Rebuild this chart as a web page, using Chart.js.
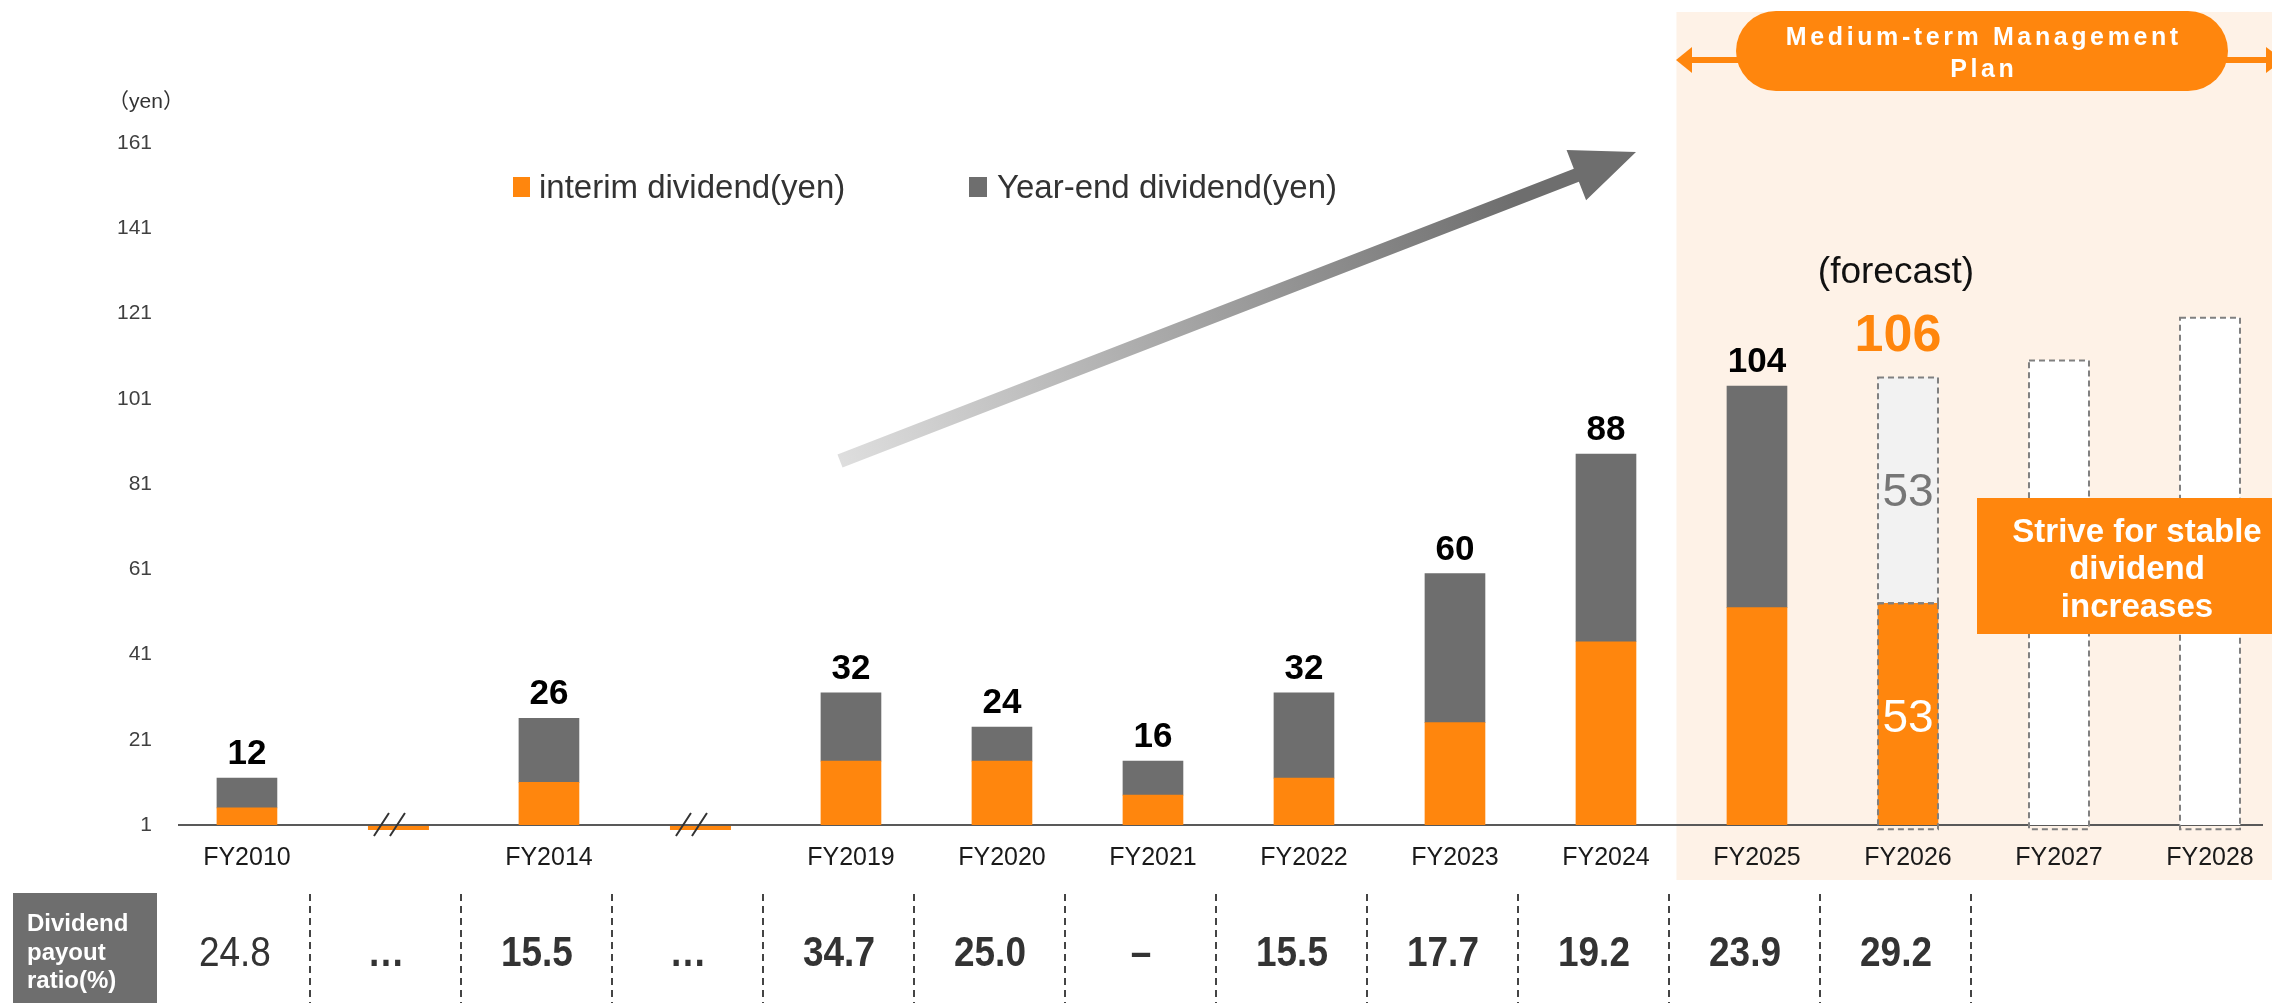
<!DOCTYPE html>
<html><head><meta charset="utf-8">
<script src="https://cdn.jsdelivr.net/npm/chart.js@4.4.1/dist/chart.umd.min.js"></script>
<style>html,body{margin:0;padding:0;background:#fff;overflow:hidden}#wrap{position:relative;width:2272px;height:1003px}</style>
</head><body><div id="wrap"><canvas id="c" width="2272" height="1003"></canvas></div>
<script>
// ---- data ----
const categories = ['FY2010','','FY2014','','FY2019','FY2020','FY2021','FY2022','FY2023','FY2024','FY2025','FY2026','FY2027','FY2028'];
const interimDividend = [5,null,11,null,16,16,8,12,25,44,52,53,null,null];
const yearEndDividend = [7,null,15,null,16,8,8,20,35,44,52,53,null,null];
const planDividend = [null,null,null,null,null,null,null,null,null,null,null,null,110,120];
const payoutRatio = ['24.8','…','15.5','…','34.7','25.0','–','15.5','17.7','19.2','23.9','29.2','',''];
const breakIndices = [1,3];
const forecastIndex = 11;
const yTicks = [1,21,41,61,81,101,121,141,161];
const legendLabels = ['interim dividend(yen)','Year-end dividend(yen)'];

const ORANGE = '#FF860D', GREY = '#6E6E6E', LIGHT = '#F2F2F2', BG = '#FEF2E7';
const FONT = '"Liberation Sans", Arial, "Noto Sans CJK JP", sans-serif';

function txt(ctx, s, x, y, size, color, opts = {}) {
  ctx.save();
  ctx.font = (opts.bold ? 'bold ' : '') + size + 'px ' + FONT;
  ctx.fillStyle = color;
  ctx.textAlign = opts.align || 'center';
  ctx.textBaseline = opts.base || 'alphabetic';
  const ls = opts.ls || 0;
  if (ls) ctx.letterSpacing = ls + 'px';
  ctx.translate(x, y);
  ctx.scale(opts.sx || 1, 1);
  ctx.fillText(s, (ctx.textAlign === 'center' && ls) ? ls / 2 : 0, 0);
  ctx.restore();
}

const decorBefore = {
  id: 'decorBefore',
  beforeDraw(chart) {
    const {ctx} = chart; const xs = chart.scales.x;
    const left = xs.getPixelForValue(9.5) - 5;
    ctx.save();
    ctx.fillStyle = BG;
    ctx.fillRect(left, 12, chart.width - left, 868);
    ctx.restore();
  }
};

const decorAfterDatasets = {
  id: 'decorAfterDatasets',
  afterDatasetsDraw(chart) {
    const {ctx} = chart; const xs = chart.scales.x; const ys = chart.scales.y;
    const m0 = chart.getDatasetMeta(0), m1 = chart.getDatasetMeta(1), m2 = chart.getDatasetMeta(2);
    ctx.save();
    ctx.strokeStyle = '#808080'; ctx.lineWidth = 2; ctx.setLineDash([6,4]);
    const outline = el => { const w = el.width; ctx.strokeRect(el.x - w/2, el.y, w, el.base - el.y); };
    outline(m0.data[forecastIndex]); outline(m1.data[forecastIndex]);
    planDividend.forEach((v,i) => { if (v != null) outline(m2.data[i]); });
    ctx.restore();
    const base = ys.getPixelForValue(yTicks[0]);
    breakIndices.forEach(i => {
      const c = xs.getPixelForValue(i);
      ctx.save();
      ctx.fillStyle = ORANGE; ctx.fillRect(c - 30, base + 1, 61, 4);
      ctx.strokeStyle = '#333'; ctx.lineWidth = 2;
      ctx.beginPath();
      ctx.moveTo(c - 24, base + 11); ctx.lineTo(c - 9, base - 12);
      ctx.moveTo(c - 8, base + 11); ctx.lineTo(c + 7, base - 12);
      ctx.stroke();
      ctx.restore();
    });
    categories.forEach((cat, i) => {
      const a = interimDividend[i], b = yearEndDividend[i];
      if (a == null || b == null) return;
      const el = m1.data[i];
      const total = String(a + b);
      if (i === forecastIndex) {
        txt(ctx, total, el.x - 10, el.y - 26, 52, ORANGE, {bold: true});
        txt(ctx, '(forecast)', el.x - 12, el.y - 94, 37, '#111');
        const e1 = m1.data[i], e0 = m0.data[i];
        txt(ctx, String(b), e1.x, (e1.y + e1.base)/2 + 16, 46, '#767676');
        txt(ctx, String(a), e0.x, (e0.y + e0.base)/2 + 16, 46, '#FFFFFF');
      } else {
        txt(ctx, total, el.x, el.y - 14, 35, '#000', {bold: true});
      }
    });
  }
};

const decorAfter = {
  id: 'decorAfter',
  afterDraw(chart) {
    const {ctx} = chart; const xs = chart.scales.x;
    txt(ctx, '（yen）', 146, 108, 21, '#333');
    ctx.save();
    ctx.fillStyle = ORANGE; ctx.fillRect(513, 177, 17, 20);
    ctx.fillStyle = GREY; ctx.fillRect(969, 177, 18, 20);
    ctx.restore();
    txt(ctx, legendLabels[0], 539, 198, 33, '#333', {align: 'left'});
    txt(ctx, legendLabels[1], 997, 198, 33, '#333', {align: 'left'});
    const S = {x: 840, y: 461}, T = {x: 1636, y: 152};
    const dx = T.x - S.x, dy = T.y - S.y, L = Math.hypot(dx, dy);
    const u = {x: dx / L, y: dy / L}, n = {x: -u.y, y: u.x};
    const hl = 64, hw = 27, sw = 7;
    const B = {x: T.x - u.x * hl, y: T.y - u.y * hl};
    const g = ctx.createLinearGradient(S.x, S.y, T.x, T.y);
    g.addColorStop(0, '#DEDEDE'); g.addColorStop(0.85, '#6E6E6E'); g.addColorStop(1, '#6E6E6E');
    ctx.save();
    ctx.fillStyle = g;
    ctx.beginPath();
    ctx.moveTo(S.x + n.x * sw, S.y + n.y * sw);
    ctx.lineTo(B.x + n.x * sw, B.y + n.y * sw);
    ctx.lineTo(B.x + n.x * hw, B.y + n.y * hw);
    ctx.lineTo(T.x, T.y);
    ctx.lineTo(B.x - n.x * hw, B.y - n.y * hw);
    ctx.lineTo(B.x - n.x * sw, B.y - n.y * sw);
    ctx.lineTo(S.x - n.x * sw, S.y - n.y * sw);
    ctx.closePath(); ctx.fill();
    ctx.restore();
    ctx.save();
    ctx.fillStyle = ORANGE;
    ctx.fillRect(1690, 57, chart.width - 1690, 6);
    ctx.beginPath(); ctx.moveTo(1676, 60); ctx.lineTo(1692, 47); ctx.lineTo(1692, 73); ctx.closePath(); ctx.fill();
    ctx.beginPath(); ctx.moveTo(2283, 60); ctx.lineTo(2266, 47); ctx.lineTo(2266, 73); ctx.closePath(); ctx.fill();
    ctx.beginPath(); ctx.roundRect(1736, 11, 492, 80, 40); ctx.fill();
    ctx.restore();
    txt(ctx, 'Medium-term Management', 1982, 45, 25, '#FFFFFF', {bold: true, ls: 3.6});
    txt(ctx, 'Plan', 1982, 77, 25, '#FFFFFF', {bold: true, ls: 3.6});
    ctx.save(); ctx.fillStyle = ORANGE; ctx.fillRect(1977, 498, chart.width - 1977, 136); ctx.restore();
    txt(ctx, 'Strive for stable', 2137, 542, 33, '#FFFFFF', {bold: true});
    txt(ctx, 'dividend', 2137, 579, 33, '#FFFFFF', {bold: true});
    txt(ctx, 'increases', 2137, 617, 33, '#FFFFFF', {bold: true});
    ctx.save(); ctx.fillStyle = GREY; ctx.fillRect(13, 893, 144, 110); ctx.restore();
    txt(ctx, 'Dividend', 27, 931, 24, '#FFFFFF', {bold: true, align: 'left'});
    txt(ctx, 'payout', 27, 960, 24, '#FFFFFF', {bold: true, align: 'left'});
    txt(ctx, 'ratio(%)', 27, 988, 24, '#FFFFFF', {bold: true, align: 'left'});
    ctx.save();
    ctx.strokeStyle = '#444'; ctx.lineWidth = 2; ctx.setLineDash([7,5]);
    payoutRatio.forEach((v, i) => {
      if (i > 11) return;
      const x = Math.round(xs.getPixelForValue(i + 0.5) - 12);
      ctx.beginPath(); ctx.moveTo(x, 894); ctx.lineTo(x, 1003); ctx.stroke();
    });
    ctx.restore();
    payoutRatio.forEach((v, i) => {
      if (!v) return;
      txt(ctx, v, xs.getPixelForValue(i) - 12, 966, 42, '#333', {bold: i !== 0, sx: 0.88});
    });
  }
};

const ctx = document.getElementById('c').getContext('2d');
new Chart(ctx, {
  type: 'bar',
  data: {
    datasets: [
      {label: legendLabels[0], data: interimDividend.map((v, i) => ({x: i, y: v})), backgroundColor: ORANGE, stack: 's'},
      {label: legendLabels[1], data: yearEndDividend.map((v, i) => ({x: i, y: v})),
        backgroundColor: c => c.dataIndex === forecastIndex ? LIGHT : GREY, stack: 's'},
      {label: 'plan', data: planDividend.map((v, i) => ({x: i, y: v})), backgroundColor: '#FFFFFF', stack: 's'}
    ]
  },
  options: {
    responsive: false, animation: false, devicePixelRatio: 1,
    layout: {padding: {top: 143, right: 9, left: 0, bottom: 0}},
    datasets: {bar: {barThickness: 60, borderWidth: 0}},
    plugins: {legend: {display: false}, tooltip: {enabled: false}},
    scales: {
      x: {
        type: 'linear', offset: false, stacked: true, min: -0.45, max: categories.length - 0.65,
        grid: {display: false, drawTicks: false, offset: false},
        border: {display: true, color: '#595959', width: 2},
        afterBuildTicks: s => { s.ticks = categories.map((c, i) => ({value: i})); },
        afterFit: s => { s.height = 178; },
        ticks: {autoSkip: false, maxRotation: 0, padding: 18, color: '#1a1a1a',
          font: {family: FONT, size: 25}, callback: v => categories[v] || ''}
      },
      y: {
        stacked: true, min: yTicks[0], max: yTicks[yTicks.length - 1],
        grid: {display: false, drawTicks: false},
        border: {display: false},
        afterBuildTicks: s => { s.ticks = yTicks.map(v => ({value: v})); },
        afterFit: s => { s.width = 179; },
        ticks: {padding: 27, color: '#404040', font: {family: FONT, size: 21}}
      }
    }
  },
  plugins: [decorBefore, decorAfterDatasets, decorAfter]
});
</script></body></html>
